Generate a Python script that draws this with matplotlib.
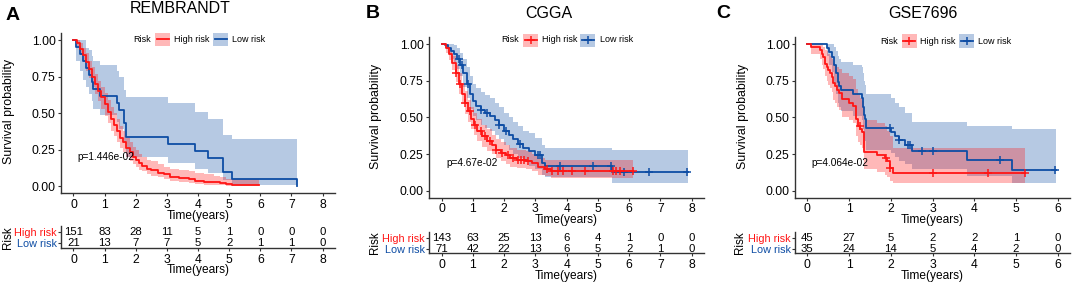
import numpy as np
import matplotlib
matplotlib.use('Agg')
import matplotlib.pyplot as plt
from matplotlib.patches import Rectangle
from matplotlib.lines import Line2D

plt.rcParams['font.family'] = ['Liberation Sans', 'DejaVu Sans']

# ---------------- data ----------------
# Panel A: REMBRANDT
A_high_t = [0, .1, .2, .3, .4, .5, .6, .7, .8, .9, 1.0, 1.1, 1.2, 1.3, 1.4, 1.5, 1.6, 1.7, 1.8, 1.9, 2.0, 2.1, 2.2, 2.35, 2.5, 2.7, 2.9, 3.1, 3.4, 3.7, 3.9, 4.2, 4.5, 4.7, 4.9, 5.1, 5.95]
A_high_s = [1, .98, .94, .90, .85, .80, .75, .70, .65, .61, .56, .51, .46, .42, .38, .33, .30, .26, .23, .20, .18, .16, .14, .12, .11, .09, .08, .065, .055, .045, .035, .03, .025, .018, .012, .007, .007]
A_high_hi = [1, 1.0, .98, .95, .91, .86, .82, .77, .72, .68, .64, .59, .54, .50, .46, .41, .38, .33, .30, .27, .25, .22, .20, .18, .17, .15, .13, .12, .11, .10, .09, .08, .07, .06, .05, .045, .045]
A_high_lo = [1, .96, .90, .85, .79, .74, .68, .63, .58, .53, .48, .43, .38, .34, .30, .26, .23, .20, .17, .15, .13, .11, .10, .08, .07, .06, .05, .035, .03, .02, .015, .01, .008, .004, .002, .001, .001]
A_low_t = [0, 0.07, 0.20, 0.30, 0.40, 0.50, 0.60, 0.63, 0.85, 1.40, 1.47, 1.62, 1.70, 3.03, 3.91, 4.31, 4.81, 5.10, 7.17]
A_low_s = [1, .952, .905, .857, .810, .762, .714, .667, .619, .571, .524, .429, .333, .286, .238, .190, .095, .048, 0]
A_low_hi = [1, 1, 1, 1, .95, .93, .89, .86, .83, .79, .75, .66, .61, .57, .51, .46, .35, .32, .32]
A_low_lo = [1, .86, .79, .73, .68, .63, .58, .53, .49, .44, .39, .30, .20, .16, .12, .09, .04, .01, .01]
A_high_cens = []
A_low_cens = []
A_ticks = [0, 1, 2, 3, 4, 5, 6, 7, 8]
A_high_risk = [151, 83, 28, 11, 5, 1, 0, 0, 0]
A_low_risk = [21, 13, 7, 7, 5, 2, 1, 1, 0]
A_pval = "p=1.446e-02"

# Panel B: CGGA
B_high_t = [0, .15, .25, .35, .45, .55, .65, .75, .85, .95, 1.05, 1.15, 1.3, 1.45, 1.6, 1.75, 1.9, 2.05, 2.2, 2.4, 2.7, 2.9, 3.1, 3.3, 3.5, 6.12]
B_high_s = [1, .97, .93, .87, .80, .73, .66, .60, .54, .49, .45, .41, .37, .34, .31, .28, .26, .24, .22, .21, .205, .19, .16, .15, .135, .135]
B_high_hi = [1, .99, .97, .92, .86, .80, .73, .68, .62, .57, .53, .49, .45, .42, .38, .35, .33, .31, .29, .28, .27, .25, .22, .21, .21, .21]
B_high_lo = [1, .94, .89, .82, .74, .66, .59, .52, .47, .42, .38, .34, .30, .27, .25, .22, .20, .18, .16, .155, .15, .135, .11, .10, .085, .085]
B_low_t = [0, .1, .2, .3, .4, .5, .6, .7, .8, .9, 1.0, 1.1, 1.25, 1.4, 1.55, 1.7, 1.85, 2.0, 2.15, 2.3, 2.45, 2.6, 2.8, 3.0, 3.2, 3.3, 5.44, 7.89]
B_low_s = [1, .99, .97, .95, .93, .90, .86, .80, .73, .66, .61, .58, .55, .53, .51, .48, .45, .41, .38, .35, .32, .29, .27, .24, .19, .165, .125, .125]
B_low_hi = [1, 1, 1, 1, .99, .97, .94, .90, .84, .78, .73, .70, .67, .65, .63, .60, .57, .53, .50, .47, .44, .41, .39, .36, .31, .29, .28, .28]
B_low_lo = [1, .97, .93, .90, .87, .83, .78, .71, .63, .56, .51, .48, .45, .43, .41, .38, .35, .31, .28, .25, .22, .20, .17, .15, .11, .09, .055, .055]
B_high_cens = [0.45, 0.6, 0.75, 0.9, 1.08, 1.25, 1.4, 1.55, 1.75, 1.95, 2.12, 2.3, 2.45, 2.55, 2.65, 2.75, 3.38, 3.52, 3.73, 3.89, 4.16, 4.59, 5.49, 5.57, 5.71, 6.12]
B_low_cens = [0.55, 0.65, 0.85, 1.25, 1.45, 1.85, 2.05, 2.5, 3.1, 3.15, 3.79, 4.83, 5.42, 5.83, 6.64, 7.84]
B_ticks = [0, 1, 2, 3, 4, 5, 6, 7, 8]
B_high_risk = [143, 63, 25, 13, 6, 4, 1, 0, 0]
B_low_risk = [71, 42, 22, 13, 6, 5, 2, 1, 0]
B_pval = "p=4.67e-02"

# Panel C: GSE7696
C_high_t = [0, .08, .3, .34, .38, .42, .46, .5, .54, .58, .62, .66, .7, .76, .82, 1.0, 1.1, 1.17, 1.22, 1.27, 1.32, 1.37, 1.66, 1.86, 1.92, 1.98, 2.05, 5.22]
C_high_s = [1, .978, .956, .933, .911, .867, .844, .822, .800, .778, .733, .711, .689, .667, .622, .600, .578, .489, .444, .422, .400, .267, .244, .222, .200, .156, .122, .122]
C_high_hi = [1, 1, 1, .99, .98, .96, .95, .93, .92, .90, .87, .86, .84, .83, .80, .78, .76, .69, .65, .63, .61, .48, .46, .44, .41, .37, .29, .29]
C_high_lo = [1, .93, .90, .86, .83, .78, .75, .72, .70, .67, .62, .60, .57, .55, .50, .48, .46, .37, .33, .31, .29, .15, .13, .11, .095, .065, .05, .05]
C_low_t = [0, .46, .53, .6, .65, .69, .73, .77, .8, 1.1, 1.3, 1.33, 1.36, 1.39, 1.41, 2.0, 2.1, 2.2, 2.35, 2.5, 3.82, 4.9, 5.97]
C_low_s = [1, .971, .943, .914, .857, .800, .743, .714, .686, .657, .629, .571, .514, .486, .429, .400, .371, .343, .314, .27, .21, .14, .14]
C_low_hi = [1, 1, 1, 1, .98, .95, .92, .90, .88, .86, .84, .80, .75, .72, .66, .63, .60, .57, .53, .47, .44, .42, .42]
C_low_lo = [1, .92, .86, .81, .73, .66, .60, .57, .54, .51, .48, .42, .36, .34, .28, .26, .23, .20, .18, .15, .10, .055, .055]
C_high_cens = [1.26, 1.88, 1.99, 3.0, 4.32, 5.22]
C_low_cens = [1.98, 2.2, 2.42, 2.46, 2.75, 3.0, 4.62, 5.93]
C_ticks = [0, 1, 2, 3, 4, 5, 6]
C_high_risk = [45, 27, 5, 2, 2, 1, 0]
C_low_risk = [35, 24, 14, 5, 4, 2, 0]
C_pval = "p=4.064e-02"

titles = ["REMBRANDT", "CGGA", "GSE7696"]
letters = ["A", "B", "C"]
groups = ["High risk", "Low risk"]
y_ticks = [0, 0.25, 0.5, 0.75, 1.0]

RED = '#FF1515'
BLUE = '#0E4DA4'
AXC = '#333333'

W, H = 1072, 285
fig = plt.figure(figsize=(W / 100, H / 100), dpi=100)


def fx(px):
    return px / W


def fy(py):
    return 1 - py / H


def box(l, t, r, b):
    return fig.add_axes([fx(l), fy(b), (r - l) / W, (b - t) / H])


def T(px, py, s, **kw):
    fig.text(fx(px), fy(py), s, **kw)


def step_at(t, s, tc):
    idx = np.searchsorted(np.asarray(t), np.asarray(tc), side='right') - 1
    return np.asarray(s)[idx]


def km(ax, t, s, lo, hi, color, cens):
    ax.fill_between(t, lo, hi, step='post', color=color, alpha=0.3, lw=0)
    ax.step(t, s, where='post', color=color, lw=1.3)
    if len(cens):
        ax.plot(cens, step_at(t, s, cens), ls='none', marker='+', ms=6,
                mew=1.1, color=color)


def style(ax):
    for sp in ['top', 'right']:
        ax.spines[sp].set_visible(False)
    for sp in ['left', 'bottom']:
        ax.spines[sp].set_color(AXC)
        ax.spines[sp].set_linewidth(1.0)
    ax.tick_params(colors=AXC, width=0.8, length=2.3, pad=1.5,
                   labelsize=8.7, labelcolor='black')


panels = [
    dict(high=(A_high_t, A_high_s, A_high_lo, A_high_hi, A_high_cens),
         low=(A_low_t, A_low_s, A_low_lo, A_low_hi, A_low_cens),
         ticks=A_ticks, hr=A_high_risk, lr=A_low_risk, pval=A_pval,
         main=(61, 33, 335, 193.3), tab=(61, 226, 335, 248.3), tylim=(0.46, 2.6),
         xlim=(-0.4, 8.4), pv=(0.13, 0.197), marker=False,
         title=(180, 8.5), letter=(6, 15), ylab=(8.7, 111.7),
         xlab1=(198.3, 215.5), xlab2=(198.3, 270.5), risk=(7.5, 237.5),
         leg=dict(risk=133.3, y=39.2, p1=155.3, t1=174, p2=213.3, t2=232)),
    dict(high=(B_high_t, B_high_s, B_high_lo, B_high_hi, B_high_cens),
         low=(B_low_t, B_low_s, B_low_lo, B_low_hi, B_low_cens),
         ticks=B_ticks, hr=B_high_risk, lr=B_low_risk, pval=B_pval,
         main=(429, 36.7, 704.2, 198), tab=(429, 231.7, 704.2, 253.3), tylim=(0.6, 2.62),
         xlim=(-0.4, 8.4), pv=(0.16, 0.187), marker=True,
         title=(549, 14), letter=(366, 14), ylab=(376, 116.7),
         xlab1=(566.6, 219.5), xlab2=(566.6, 276), risk=(375, 242.5),
         leg=dict(risk=501.7, y=40, p1=523.3, t1=541.7, p2=580, t2=600)),
    dict(high=(C_high_t, C_high_s, C_high_lo, C_high_hi, C_high_cens),
         low=(C_low_t, C_low_s, C_low_lo, C_low_hi, C_low_cens),
         ticks=C_ticks, hr=C_high_risk, lr=C_low_risk, pval=C_pval,
         main=(794.8, 36.7, 1070.2, 198), tab=(794.8, 231.7, 1070.2, 253.3), tylim=(0.6, 2.62),
         xlim=(-0.3, 6.3), pv=(0.105, 0.187), marker=True,
         title=(922.5, 14), letter=(716, 14), ylab=(743, 116.7),
         xlab1=(932.5, 219.5), xlab2=(932.5, 276), risk=(740, 242.5),
         leg=dict(risk=880, y=41, p1=901.7, t1=920, p2=959.3, t2=978.3)),
]

for i, p in enumerate(panels):
    ax = box(*p['main'])
    km(ax, *p['low'][:4], BLUE, p['low'][4])
    km(ax, *p['high'][:4], RED, p['high'][4])
    ax.set_xlim(*p['xlim'])
    ax.set_ylim(-0.05, 1.05)
    ax.set_xticks(p['ticks'])
    ax.set_yticks(y_ticks)
    ax.set_yticklabels([f"{v:.2f}" for v in y_ticks])
    style(ax)
    ax.text(p['pv'][0], p['pv'][1], p['pval'], fontsize=7.3, ha='left', va='center')

    # risk table
    tb = box(*p['tab'])
    for tk, h, l in zip(p['ticks'], p['hr'], p['lr']):
        tb.text(tk, 2, str(h), ha='center', va='center', fontsize=8.2)
        tb.text(tk, 1, str(l), ha='center', va='center', fontsize=8.2)
    tb.set_xlim(*p['xlim'])
    tb.set_ylim(*p['tylim'])
    tb.set_xticks(p['ticks'])
    tb.set_yticks([2, 1])
    tb.set_yticklabels(groups)
    style(tb)
    tb.tick_params(axis='y', labelsize=7.8, length=2, pad=1)
    tb.get_yticklabels()[0].set_color(RED)
    tb.get_yticklabels()[1].set_color(BLUE)

    # texts
    T(*p['title'], titles[i], fontsize=11.5, ha='center', va='center')
    T(*p['letter'], letters[i], fontsize=14, fontweight='bold', ha='left', va='center')
    T(*p['ylab'], "Survival probability", fontsize=8.9, rotation=90, ha='center', va='center')
    T(*p['xlab1'], "Time(years)", fontsize=8.6, ha='center', va='center')
    T(*p['xlab2'], "Time(years)", fontsize=8.6, ha='center', va='center')
    T(*p['risk'], "Risk", fontsize=8.4, rotation=90, ha='center', va='center')

    # legend
    lg = p['leg']
    T(lg['risk'], lg['y'], "Risk", fontsize=6.5, ha='left', va='center')
    for key, col, txt, tx in [('p1', RED, "High risk", lg['t1']), ('p2', BLUE, "Low risk", lg['t2'])]:
        x0 = lg[key]
        fig.patches.append(Rectangle((fx(x0), fy(lg['y'] + 6.5)), 15 / W, 13 / H,
                                     transform=fig.transFigure, facecolor=col,
                                     alpha=0.3, lw=0))
        fig.lines.append(Line2D([fx(x0 + 1.5), fx(x0 + 13.5)], [fy(lg['y']), fy(lg['y'])],
                                transform=fig.transFigure, color=col, lw=1.3))
        if p['marker']:
            fig.lines.append(Line2D([fx(x0 + 7.5)], [fy(lg['y'])], transform=fig.transFigure,
                                    color=col, marker='+', ms=6, mew=1.1, ls='none'))
        T(tx, lg['y'], txt, fontsize=6.5, ha='left', va='center')

fig.savefig('out.png', dpi=100)
